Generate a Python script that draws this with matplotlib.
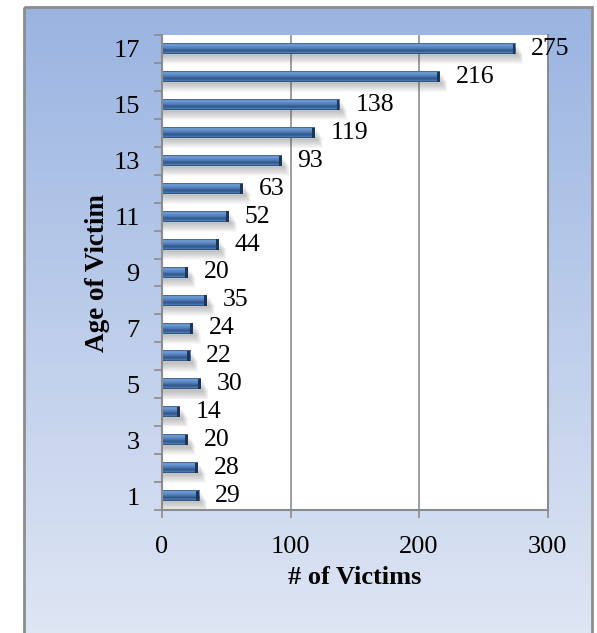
import numpy as np
import matplotlib
matplotlib.use('Agg')
import matplotlib.pyplot as plt
from matplotlib.colors import LinearSegmentedColormap, to_rgb
from matplotlib.patches import Rectangle

# ---- data ----
ages = list(range(1, 18))
victims = [29, 28, 20, 14, 30, 22, 24, 35, 20, 44, 52, 63, 93, 119, 138, 216, 275]
ytick_labels = [str(a) for a in ages[::2]]
xticks = [0, 100, 200, 300]
xlabel = '# of Victims'
ylabel = 'Age of Victim'

plt.rcParams['font.family'] = ['Liberation Serif', 'DejaVu Serif']

W, H = 597, 633
fig = plt.figure(figsize=(W / 100, H / 100), dpi=100)
fig.patch.set_facecolor('white')

# background gradient frame
bg = fig.add_axes([0, 0, 1, 1], zorder=-10)
bg.set_xlim(0, W)
bg.set_ylim(H, 0)
bg.axis('off')
g = np.linspace(0, 1, 256)[:, None, None]
top = np.array(to_rgb('#9AB4E1'))
bot = np.array(to_rgb('#DFE6F4'))
img = top * (1 - g) + bot * g
bg.imshow(img, extent=(24, 592, H + 5, 7), aspect='auto', origin='upper')
bg.add_patch(Rectangle((24, 7), 568, H, fill=False, edgecolor='#8C8C8C', lw=2))

# main axes
ax = fig.add_axes([162 / W, 1 - 510 / H, (547.5 - 162) / W, (510 - 35) / H])
ax.set_facecolor('white')
ax.set_xlim(0, 300)
ax.set_ylim(0.5, 17.5)

gray = '#8C8C8C'
ax.xaxis.grid(True, color=gray, lw=1.2, zorder=0)
ax.set_axisbelow(True)
for s in ['left', 'bottom', 'right']:
    ax.spines[s].set_color(gray)
    ax.spines[s].set_linewidth(1.5)
ax.spines['top'].set_visible(False)

ax.set_yticks(np.arange(0.5, 18, 1))
ax.set_yticklabels([])
ax.set_yticks(ages[::2], minor=True)
ax.set_yticklabels(ytick_labels, minor=True, fontsize=19)
ax.tick_params(axis='y', which='major', length=6, color=gray, width=1.2)
ax.tick_params(axis='y', which='minor', length=0, pad=16)
ax.set_xticks(xticks)
ax.set_xticklabels([str(t) for t in xticks], fontsize=19)
ax.tick_params(axis='x', length=6, color=gray, width=1.2, pad=13)

# bar gradient
cmap = LinearSegmentedColormap.from_list('bar', [
    (0.0, '#2E4F7C'), (0.12, '#77A2D8'), (0.35, '#5B89C8'),
    (0.58, '#3F6AA3'), (0.72, '#2C4F80'), (0.86, '#5283BE'), (1.0, '#2A4870')])
prof = np.linspace(0, 1, 64)[:, None]
h = 0.37
for y, v in zip(ages, victims):
    # soft shadow
    for k in range(9):
        ax.barh(y - 0.08 - k * 0.035, v + 2 + k * 0.5, height=h, color='#555555',
                alpha=0.045, lw=0, zorder=1)
    ax.imshow(prof, cmap=cmap, extent=(0, v, y - h / 2, y + h / 2), aspect='auto',
              origin='upper', zorder=2, interpolation='bilinear')
    ax.barh(y, 2.2, left=v - 2.2, height=h, color='#1E3558', lw=0, zorder=3)
    ax.annotate(str(v), (v, y), xytext=(11.5, 0), textcoords='offset points',
                va='center', ha='left', fontsize=18.5, zorder=4)

ax.set_xlim(0, 300)
ax.set_ylim(0.5, 17.5)

fig.text(355 / W, 1 - 578 / H, xlabel, ha='center', va='center',
         fontsize=19, fontweight='bold')
fig.text(98 / W, 1 - 273 / H, ylabel, ha='center', va='center',
         fontsize=19.5, fontweight='bold', rotation=90)

fig.savefig('out.png', dpi=100)
